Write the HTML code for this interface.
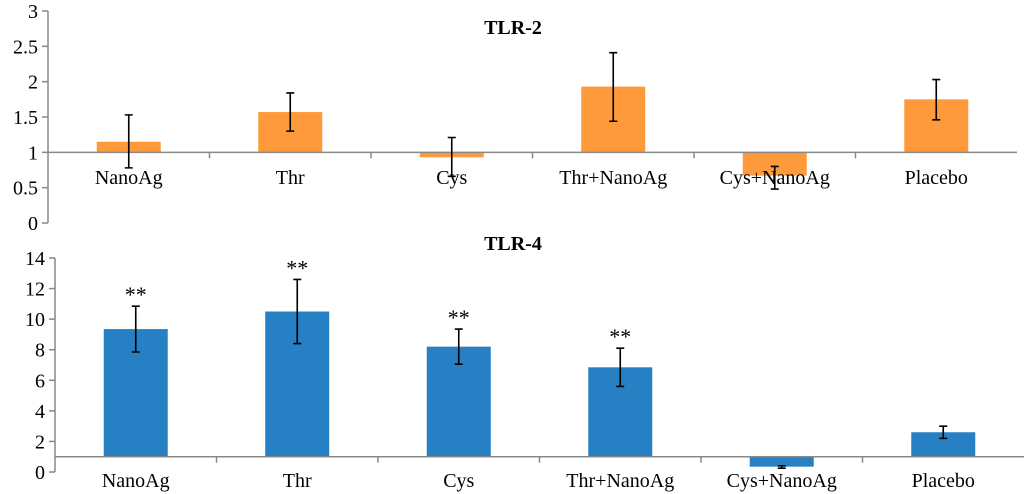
<!DOCTYPE html>
<html><head><meta charset="utf-8"><style>
body{margin:0;background:#fff;}
svg, svg text{display:block;font-family:"Liberation Serif","Times New Roman","DejaVu Serif",serif;}
</style></head><body>
<svg id="c" width="1024" height="494" font-family="'Liberation Serif', 'DejaVu Serif', serif"></svg>
<script>
const categories=["NanoAg","Thr","Cys","Thr+NanoAg","Cys+NanoAg","Placebo"];
const tlr2Values=[1.15,1.57,0.93,1.93,0.67,1.75];
const tlr2Low=[0.78,1.30,0.66,1.44,0.48,1.46];
const tlr2High=[1.53,1.84,1.21,2.41,0.80,2.03];
const tlr2Ticks=[0,0.5,1,1.5,2,2.5,3];
const tlr4Values=[9.35,10.5,8.2,6.85,0.35,2.6];
const tlr4Low=[7.85,8.4,7.05,5.6,0.25,2.2];
const tlr4High=[10.85,12.6,9.35,8.1,0.4,3.0];
const tlr4Ticks=[0,2,4,6,8,10,12,14];
const tlr4Stars=["**","**","**","**","",""];
const NS="http://www.w3.org/2000/svg";
const svg=document.getElementById("c");
const FF="Liberation Serif, DejaVu Serif, serif";
function mk(t,a,p){const e=document.createElementNS(NS,t);for(const k in a)e.setAttribute(k,a[k]);if(t==="text")e.setAttribute("font-family",FF);(p||svg).appendChild(e);return e;}
function panel(o){
  const g=mk("g",{});
  
  
  const y=v=>o.y0-(v-o.min)/(o.max-o.min)*(o.y0-o.y1);
  const bw=(o.xr-o.ax)/categories.length;
  const x=i=>o.ax+bw*(i+0.5);
  const ax=mk("line",{x1:o.ax,x2:o.ax,y1:o.y1,y2:o.y0,stroke:"#888","stroke-width":1.5},g);
  
  
  o.ticks.forEach(t=>{
    mk("line",{x1:o.ax-6,x2:o.ax,y1:y(t),y2:y(t),stroke:"#888","stroke-width":1.5},g);
    const tx=mk("text",{x:o.ax-10,y:y(t)+7,"text-anchor":"end","font-size":20},g);
    tx.textContent=t;
    
    
  });
  categories.forEach((c,i)=>{
    const v=o.vals[i];
    const r=mk("rect",{x:x(i)-32,width:64,y:Math.min(y(v),y(1)),height:Math.abs(y(v)-y(1)),fill:o.color},g);
    
    
    if(o.stars&&o.stars[i]){
      const s=mk("text",{x:x(i),y:y(o.hi[i])-4,"text-anchor":"middle","font-size":22},g);
      s.textContent=o.stars[i];
      
      
    }
    const l=mk("text",{x:x(i),y:o.ly,"text-anchor":"middle","font-size":20},g);
    l.textContent=c;
    
    
    if(i>0)mk("line",{x1:o.ax+bw*i,x2:o.ax+bw*i,y1:y(1),y2:y(1)+6,stroke:"#888","stroke-width":1.5},g);
  });
  const bl=mk("line",{x1:o.ax,x2:o.xr,y1:y(1),y2:y(1),stroke:"#888","stroke-width":1.5},g);
  
  
  categories.forEach((c,i)=>{
    const e=mk("path",{d:`M${x(i)-4},${y(o.hi[i])}h8M${x(i)},${y(o.hi[i])}V${y(o.lo[i])}M${x(i)-4},${y(o.lo[i])}h8`,stroke:"#000","stroke-width":1.6,fill:"none"},g);
    
    
  });
  const ti=mk("text",{x:o.tx,y:o.ty,"text-anchor":"middle","font-size":20,"font-weight":"bold"},g);
  ti.textContent=o.title;
  
  
}
panel({name:"tlr2-panel",title:"TLR-2",tx:513,ty:34,ax:48,xr:1017,y0:223,y1:11,min:0,max:3,ticks:tlr2Ticks,vals:tlr2Values,lo:tlr2Low,hi:tlr2High,color:"#FF9A3C",ly:184});
panel({name:"tlr4-panel",title:"TLR-4",tx:513,ty:250,ax:55,xr:1024,y0:472,y1:258,min:0,max:14,ticks:tlr4Ticks,vals:tlr4Values,lo:tlr4Low,hi:tlr4High,color:"#2880C4",ly:487,stars:tlr4Stars});
</script>
</body></html>
